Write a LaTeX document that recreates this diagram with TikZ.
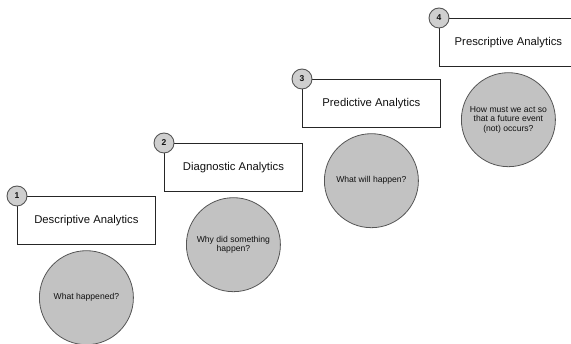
\documentclass[tikz,border=0pt]{standalone}
\usepackage{fontspec}
\setmainfont{Liberation Sans}
\usetikzlibrary{positioning}

\definecolor{discfill}{HTML}{C2C2C2}
\definecolor{badgefill}{HTML}{CFCFCF}
\definecolor{edgegray}{HTML}{555555}
\definecolor{inkgray}{HTML}{111111}

\tikzset{
  stagebox/.style={draw=black!85, line width=0.8pt, fill=white, text=inkgray,
    minimum width=138pt, minimum height=48pt, anchor=north west, inner sep=0pt,
    font=\fontsize{11.3}{13}\selectfont},
  questiondisc/.style={circle, draw=edgegray, line width=0.8pt, fill=discfill, text=inkgray,
    minimum size=94pt, inner sep=0pt, align=center,
    font=\fontsize{8.6}{9.5}\selectfont},
  stagebadge/.style={circle, draw=edgegray, line width=0.9pt, fill=badgefill, text=inkgray,
    minimum size=20pt, inner sep=0pt, font=\fontsize{8.5}{9}\selectfont\bfseries}
}

\begin{document}
\begin{tikzpicture}[x=1pt,y=1pt]
  % 1. Fix the page to the reference size
  \useasboundingbox (0,0) rectangle (571,344);

  % 2. Stage boxes, rising like stairs
  \node[stagebox] (descbox) at (17,148) {Descriptive Analytics};
  \node[stagebox] (diagbox) at (164,201) {Diagnostic Analytics};
  \node[stagebox] (predbox) at (302,265) {Predictive Analytics};
  \node[stagebox] (prescbox) at (439,326) {Prescriptive Analytics};

  % 3. Question discs under each box
  \node[questiondisc, below=5.5pt of descbox] (descdisc) {What happened?};
  \node[questiondisc, below=5.5pt of diagbox] (diagdisc) {Why did something\\happen?};
  \node[questiondisc, below=5.5pt of predbox] (preddisc) {What will happen?};
  \node[questiondisc, below=5.5pt of prescbox] (prescdisc) {How must we act so\\that a future event\\(not) occurs?};

  % 4. Number badges on the top left corners
  \node[stagebadge] (descbadge) at (descbox.north west) {1};
  \node[stagebadge] (diagbadge) at (diagbox.north west) {2};
  \node[stagebadge] (predbadge) at (predbox.north west) {3};
  \node[stagebadge] (prescbadge) at (prescbox.north west) {4};
\end{tikzpicture}
\end{document}
